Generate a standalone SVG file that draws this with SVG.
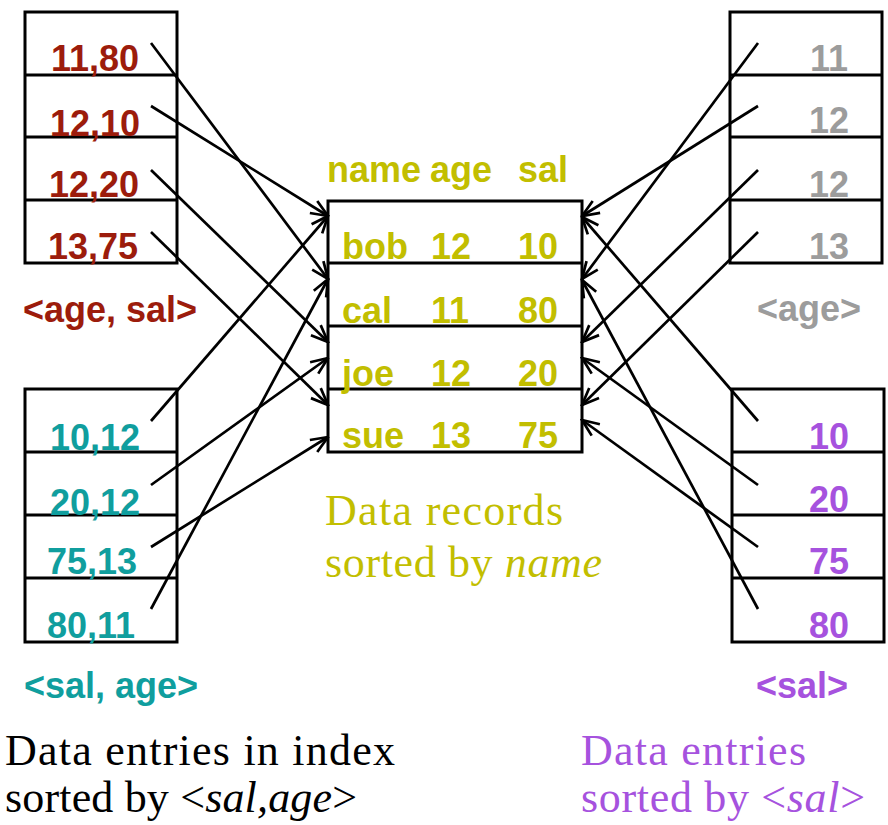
<svg xmlns="http://www.w3.org/2000/svg" width="888" height="825" viewBox="0 0 888 825">
<defs>
<marker id="ah" markerUnits="userSpaceOnUse" markerWidth="20" markerHeight="18" viewBox="0 0 20 18" refX="18.5" refY="9" orient="auto">
<path d="M1.5,2 L18.5,9 L1.5,16" fill="none" stroke="#000" stroke-width="2.7"/>
</marker>
</defs>
<style>
.box{fill:none;stroke:#000;stroke-width:3}
.div{stroke:#000;stroke-width:3}
.b{font-family:"Liberation Sans",Arial,sans-serif;font-weight:bold}
.num{font-size:36px}
.lbl{font-size:36px}
.red{fill:#9C1C0C}
.teal{fill:#109E9E}
.gray{fill:#9C9C9C}
.pur{fill:#A652DE}
.oli{fill:#C2BE00}
.serif{font-family:"Liberation Serif","Times New Roman",serif;font-size:44px}
.con line{stroke:#000;stroke-width:2.7;marker-end:url(#ah)}
</style>
<rect width="888" height="825" fill="#fff"/>

<g id="idx-age-sal">
<rect class="box" x="25" y="12" width="152" height="251"/>
<line class="div" x1="25" y1="75" x2="177" y2="75"/>
<line class="div" x1="25" y1="137" x2="177" y2="137"/>
<line class="div" x1="25" y1="200" x2="177" y2="200"/>
<g class="b num red" text-anchor="middle">
<text x="95" y="71">11,80</text>
<text x="95" y="136">12,10</text>
<text x="94" y="197">12,20</text>
<text x="93" y="259">13,75</text>
</g>
<text class="b lbl red" x="23" y="322">&lt;age, sal&gt;</text>
</g>

<g id="idx-sal-age">
<rect class="box" x="25" y="389" width="152" height="253"/>
<line class="div" x1="25" y1="452" x2="177" y2="452"/>
<line class="div" x1="25" y1="515" x2="177" y2="515"/>
<line class="div" x1="25" y1="578" x2="177" y2="578"/>
<g class="b num teal" text-anchor="middle">
<text x="95" y="450">10,12</text>
<text x="95" y="515">20,12</text>
<text x="92" y="574">75,13</text>
<text x="91" y="638">80,11</text>
</g>
<text class="b lbl teal" x="24" y="698">&lt;sal, age&gt;</text>
</g>

<g id="idx-age">
<rect class="box" x="730" y="12" width="152" height="251"/>
<line class="div" x1="730" y1="75" x2="882" y2="75"/>
<line class="div" x1="730" y1="137" x2="882" y2="137"/>
<line class="div" x1="730" y1="200" x2="882" y2="200"/>
<g class="b num gray" text-anchor="middle">
<text x="829" y="71">11</text>
<text x="829" y="133">12</text>
<text x="829" y="197">12</text>
<text x="829" y="259">13</text>
</g>
<text class="b lbl gray" x="757" y="321">&lt;age&gt;</text>
</g>

<g id="idx-sal">
<rect class="box" x="732" y="389" width="152" height="253"/>
<line class="div" x1="732" y1="452" x2="884" y2="452"/>
<line class="div" x1="732" y1="515" x2="884" y2="515"/>
<line class="div" x1="732" y1="578" x2="884" y2="578"/>
<g class="b num pur" text-anchor="middle">
<text x="829" y="449">10</text>
<text x="829" y="512">20</text>
<text x="829" y="574">75</text>
<text x="829" y="638">80</text>
</g>
<text class="b lbl pur" x="756" y="698">&lt;sal&gt;</text>
</g>

<g id="records">
<g class="b lbl oli">
<text x="327" y="182">name</text>
<text x="430" y="182">age</text>
<text x="518" y="182">sal</text>
</g>
<rect class="box" x="328" y="201" width="254" height="251"/>
<line class="div" x1="328" y1="263" x2="582" y2="263"/>
<line class="div" x1="328" y1="326" x2="582" y2="326"/>
<line class="div" x1="328" y1="389" x2="582" y2="389"/>
<g class="b lbl oli">
<text x="342" y="259">bob</text><text x="431" y="259">12</text><text x="518" y="259">10</text>
<text x="342" y="323">cal</text><text x="431" y="323">11</text><text x="518" y="323">80</text>
<text x="342" y="386">joe</text><text x="431" y="386">12</text><text x="518" y="386">20</text>
<text x="342" y="448">sue</text><text x="431" y="448">13</text><text x="518" y="448">75</text>
</g>
<text class="serif oli" x="325" y="525" textLength="238">Data records</text>
<text class="serif oli" x="325" y="577" textLength="277">sorted by <tspan font-style="italic">name</tspan></text>
</g>

<g id="captions">
<text class="serif" x="5" y="765" fill="#000" textLength="390">Data entries in index</text>
<text class="serif" x="5" y="812" fill="#000" textLength="352">sorted by &lt;<tspan font-style="italic">sal,age</tspan>&gt;</text>
<text class="serif pur" x="581" y="765" textLength="225">Data entries</text>
<text class="serif pur" x="581" y="812" textLength="284">sorted by &lt;<tspan font-style="italic">sal</tspan>&gt;</text>
</g>

<g id="connectors" class="con">
<line x1="151" y1="43" x2="328" y2="279"/>
<line x1="151" y1="106" x2="328" y2="216"/>
<line x1="151" y1="170" x2="328" y2="342"/>
<line x1="151" y1="232" x2="328" y2="405"/>
<line x1="151" y1="421" x2="328" y2="216"/>
<line x1="151" y1="485" x2="328" y2="358"/>
<line x1="151" y1="547" x2="328" y2="437"/>
<line x1="151" y1="609" x2="328" y2="279"/>
<line x1="758" y1="43" x2="582" y2="279"/>
<line x1="758" y1="106" x2="582" y2="216"/>
<line x1="758" y1="170" x2="582" y2="342"/>
<line x1="758" y1="232" x2="582" y2="405"/>
<line x1="758" y1="421" x2="582" y2="217"/>
<line x1="758" y1="485" x2="582" y2="358"/>
<line x1="758" y1="547" x2="582" y2="420"/>
<line x1="758" y1="609" x2="582" y2="280"/>
</g>
</svg>
